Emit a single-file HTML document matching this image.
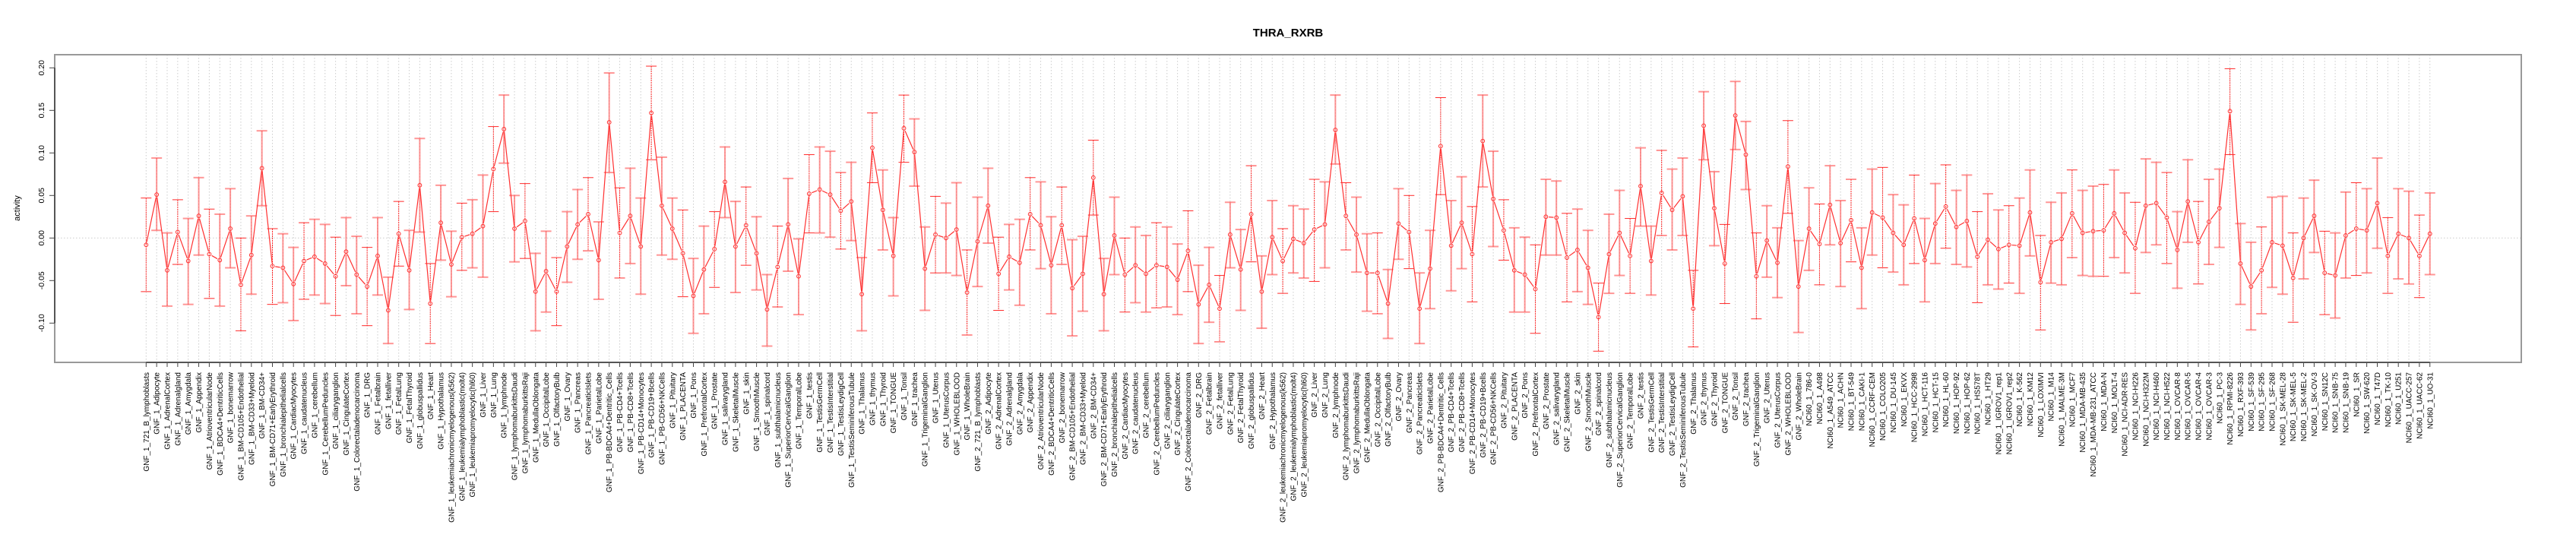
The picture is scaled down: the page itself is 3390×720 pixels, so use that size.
<!DOCTYPE html>
<html><head><meta charset="utf-8"><style>
html,body{margin:0;padding:0;background:#fff;}
svg{display:block;font-family:"Liberation Sans",sans-serif;}
</style></head><body>
<svg id="chart" width="3390" height="720" xmlns="http://www.w3.org/2000/svg">
<text x="1695" y="48" text-anchor="middle" font-size="15" font-weight="bold">THRA_RXRB</text>
<text transform="translate(26,274) rotate(-90)" text-anchor="middle" font-size="11">activity</text>
<g id="grid"></g><g id="axes"></g><g id="marks"></g>
</svg>
<script>
const tissues = ["721_B_lymphoblasts","Adipocyte","AdrenalCortex","Adrenalgland","Amygdala","Appendix","AtrioventricularNode","BDCA4+DentriticCells","bonemarrow","BM-CD105+Endothelial","BM-CD33+Myeloid","BM-CD34+","BM-CD71+EarlyErythroid","bronchialepithelialcells","CardiacMyocytes","caudatenucleus","cerebellum","CerebellumPeduncles","ciliaryganglion","CingulateCortex","Colorectaladenocarcinoma","DRG","Fetalbrain","fetalliver","FetalLung","FetalThyroid","globuspallidus","Heart","Hypothalamus","leukemiachronicmyelogenous(k562)","leukemialymphoblastic(molt4)","leukemiapromyelocytic(hl60)","Liver","Lung","lymphnode","lymphomaburkittsDaudi","lymphomaburkittsRaji","MedullaOblongata","OccipitalLobe","OlfactoryBulb","Ovary","Pancreas","PancreaticIslets","ParietalLobe","PB-BDCA4+Dentritic_Cells","PB-CD4+Tcells","PB-CD8+Tcells","PB-CD14+Monocytes","PB-CD19+Bcells","PB-CD56+NKCells","Pituitary","PLACENTA","Pons","PrefrontalCortex","Prostate","salivarygland","SkeletalMuscle","skin","SmoothMuscle","spinalcord","subthalamicnucleus","SuperiorCervicalGanglion","TemporalLobe","testis","TestisGermCell","TestisInterstitial","TestisLeydigCell","TestisSeminiferousTubule","Thalamus","thymus","Thyroid","TONGUE","Tonsil","trachea","TrigeminalGanglion","Uterus","UterusCorpus","WHOLEBLOOD","WholeBrain"];
const nciLines = ["786-0","A498","A549_ATCC","ACHN","BT-549","CAKI-1","CCRF-CEM","COLO205","DU-145","EKVX","HCC-2998","HCT-116","HCT-15","HL-60","HOP-92","HOP-62","HS578T","HT29","IGROV1_rep1","IGROV1_rep2","K-562","KM12","LOXIMVI","M14","MALME-3M","MCF7","MDA-MB-435","MDA-MB-231_ATCC","MDA-N","MOLT-4","NCI-ADR-RES","NCI-H226","NCI-H322M","NCI-H460","NCI-H522","OVCAR-8","OVCAR-5","OVCAR-4","OVCAR-3","PC-3","RPMI-8226","RXF-393","SF-539","SF-295","SF-268","SK-MEL-28","SK-MEL-5","SK-MEL-2","SK-OV-3","SN12C","SNB-75","SNB-19","SR","SW-620","T47D","TK-10","U251","UACC-257","UACC-62","UO-31"];
const categories = tissues.map(t=>"GNF_1_"+t).concat(tissues.map(t=>"GNF_2_"+t)).concat(nciLines.map(t=>"NCI60_1_"+t));
const means = [-0.008,0.051,-0.038,0.007,-0.027,0.026,-0.019,-0.026,0.011,-0.055,
-0.020,0.082,-0.033,-0.035,-0.054,-0.027,-0.022,-0.030,-0.045,-0.016,-0.043,-0.057,-0.021,-0.085,0.005,-0.038,0.062,-0.077,0.018,-0.031,0.001,0.005,
0.014,0.081,0.128,0.011,0.020,-0.063,-0.039,-0.063,-0.010,0.016,0.028,-0.026,0.136,0.006,0.026,-0.010,0.147,0.038,0.011,-0.018,-0.068,-0.037,
-0.013,0.066,-0.010,0.015,-0.018,-0.084,-0.034,0.016,-0.045,0.052,0.057,0.051,0.032,0.043,-0.066,0.106,0.033,-0.021,0.129,0.101,-0.036,
0.004,0.000,0.010,-0.064,-0.004,0.038,-0.042,-0.022,-0.029,0.028,0.015,-0.032,0.015,-0.059,-0.042,0.071,-0.066,0.003,-0.043,-0.032,-0.042,-0.032,
-0.034,-0.049,-0.015,-0.078,-0.055,-0.083,0.004,-0.037,0.028,-0.063,0.001,-0.027,-0.001,-0.006,0.010,0.016,0.127,0.026,0.004,-0.041,-0.041,
-0.077,0.017,0.007,-0.083,-0.036,0.108,-0.009,0.018,-0.019,0.114,0.046,0.009,-0.038,-0.043,-0.060,0.025,0.024,-0.023,-0.014,-0.035,-0.093,-0.019,
0.006,-0.021,0.061,-0.027,0.053,0.033,0.049,-0.083,0.132,0.035,-0.030,0.144,0.098,-0.045,-0.003,-0.029,0.084,-0.057,0.011,-0.007,0.039,
-0.006,0.021,-0.035,0.030,0.024,0.006,-0.008,0.023,-0.026,0.017,0.037,0.013,0.020,-0.022,-0.002,-0.013,-0.008,-0.009,0.030,-0.052,-0.005,-0.001,
0.029,0.006,0.008,0.009,0.029,0.006,-0.012,0.038,0.041,0.024,-0.014,0.043,-0.005,0.019,0.035,0.149,-0.030,-0.057,-0.038,-0.005,-0.009,
-0.047,0.000,0.026,-0.041,-0.044,0.003,0.011,0.009,0.041,-0.021,0.005,0.000,-0.021,0.005];
const upper = [0.047,0.094,0.006,0.045,0.023,0.071,0.034,0.028,0.058,0.000,
0.026,0.126,0.011,0.005,-0.011,0.018,0.022,0.016,0.001,0.024,0.002,-0.011,0.024,-0.046,0.043,0.009,0.117,-0.030,0.062,0.008,0.041,0.045,
0.074,0.131,0.168,0.050,0.064,-0.018,0.008,-0.023,0.031,0.057,0.071,0.019,0.194,0.059,0.082,0.047,0.202,0.095,0.047,0.033,-0.024,0.014,
0.031,0.107,0.043,0.060,0.025,-0.043,0.014,0.070,-0.001,0.098,0.107,0.102,0.077,0.089,-0.023,0.147,0.080,0.024,0.168,0.140,0.013,
0.049,0.041,0.065,-0.014,0.048,0.082,0.001,0.016,0.022,0.071,0.066,0.025,0.060,-0.002,0.002,0.115,-0.024,0.048,0.000,0.013,0.003,0.018,
0.013,-0.007,0.032,-0.032,-0.011,-0.044,0.042,0.010,0.085,-0.021,0.044,0.011,0.038,0.034,0.069,0.066,0.168,0.065,0.048,0.005,0.006,
-0.037,0.058,0.050,-0.041,0.009,0.165,0.044,0.072,0.037,0.168,0.102,0.045,0.012,0.001,-0.008,0.069,0.067,0.029,0.034,0.009,-0.053,0.028,
0.056,0.023,0.106,0.014,0.103,0.081,0.094,-0.038,0.172,0.078,0.016,0.184,0.137,0.006,0.038,0.012,0.138,-0.003,0.059,0.040,0.085,
0.044,0.069,0.012,0.081,0.083,0.051,0.039,0.074,0.023,0.064,0.086,0.056,0.074,0.031,0.052,0.033,0.038,0.047,0.080,0.003,0.042,0.053,
0.080,0.056,0.061,0.063,0.080,0.053,0.042,0.093,0.089,0.077,0.031,0.092,0.043,0.069,0.081,0.199,0.017,-0.005,0.013,0.048,0.049,
0.006,0.047,0.068,0.008,0.006,0.054,0.065,0.058,0.094,0.024,0.058,0.055,0.027,0.053];
const lower = [-0.063,0.009,-0.080,-0.031,-0.078,-0.020,-0.071,-0.080,-0.035,-0.109,
-0.066,0.038,-0.078,-0.076,-0.097,-0.072,-0.067,-0.077,-0.091,-0.056,-0.089,-0.103,-0.067,-0.124,-0.033,-0.084,0.007,-0.124,-0.026,-0.069,-0.038,-0.035,
-0.046,0.031,0.088,-0.028,-0.024,-0.109,-0.087,-0.103,-0.052,-0.025,-0.015,-0.072,0.077,-0.047,-0.030,-0.066,0.092,-0.020,-0.025,-0.069,-0.112,-0.089,
-0.058,0.024,-0.064,-0.032,-0.061,-0.127,-0.081,-0.039,-0.090,0.006,0.006,0.001,-0.013,-0.003,-0.109,0.065,-0.014,-0.068,0.089,0.061,-0.085,
-0.041,-0.041,-0.044,-0.114,-0.057,-0.006,-0.085,-0.061,-0.079,-0.014,-0.036,-0.089,-0.031,-0.115,-0.086,0.027,-0.109,-0.043,-0.087,-0.076,-0.087,-0.082,
-0.081,-0.090,-0.063,-0.124,-0.099,-0.122,-0.035,-0.085,-0.028,-0.106,-0.043,-0.065,-0.041,-0.047,-0.051,-0.035,0.087,-0.014,-0.040,-0.086,-0.089,
-0.118,-0.025,-0.036,-0.124,-0.083,0.051,-0.062,-0.036,-0.075,0.060,-0.010,-0.026,-0.087,-0.087,-0.112,-0.020,-0.020,-0.075,-0.063,-0.078,-0.133,-0.065,
-0.044,-0.065,0.014,-0.067,0.003,-0.014,0.003,-0.128,0.092,-0.009,-0.077,0.104,0.057,-0.095,-0.046,-0.070,0.029,-0.111,-0.038,-0.055,-0.008,
-0.057,-0.028,-0.083,-0.020,-0.035,-0.040,-0.055,-0.030,-0.075,-0.030,-0.012,-0.031,-0.034,-0.076,-0.055,-0.060,-0.053,-0.065,-0.021,-0.108,-0.053,-0.055,
-0.023,-0.044,-0.045,-0.045,-0.023,-0.041,-0.065,-0.017,-0.008,-0.030,-0.059,-0.005,-0.054,-0.031,-0.011,0.098,-0.078,-0.108,-0.089,-0.058,-0.066,
-0.099,-0.048,-0.017,-0.090,-0.094,-0.047,-0.044,-0.041,-0.012,-0.065,-0.048,-0.054,-0.070,-0.043];
const yTicks = [-0.10,-0.05,0.00,0.05,0.10,0.15,0.20];
const yTickLabels = ["-0.10","-0.05","0.00","0.05","0.10","0.15","0.20"];

const NS="http://www.w3.org/2000/svg";
const PL=72, PR=3318, PT=72, PB=477;
const X0=192.3, DX=13.85;
function xS(i){return X0+i*DX;}
function yS(v){return 313.3-v*1120;}
function mk(tag,attrs,parent){const e=document.createElementNS(NS,tag);for(const k in attrs)e.setAttribute(k,attrs[k]);parent.appendChild(e);return e;}
const grid=document.getElementById('grid'),axes=document.getElementById('axes'),marks=document.getElementById('marks');

// plot box
const box=mk('rect',{x:PL,y:PT,width:PR-PL,height:PB-PT,fill:'none',stroke:'#999','stroke-width':2},axes);



// vertical grid & x labels
categories.forEach((c,i)=>{
  const x=xS(i);
  const g=mk('line',{x1:x,x2:x,y1:PT,y2:PB,stroke:'#ccc','stroke-dasharray':'1.5,2.5','stroke-width':1},grid);
  
  
  const tk=mk('line',{x1:x,x2:x,y1:PB,y2:PB+6,stroke:'#444','stroke-width':1},axes);
  
  
  const t=mk('text',{transform:`translate(${x+3.5},${PB+13}) rotate(-90)`,'text-anchor':'end','font-size':10,fill:'#000'},axes);
  t.textContent=c;
  
  
});
const zl=mk('line',{x1:PL,x2:PR,y1:yS(0),y2:yS(0),stroke:'#ccc','stroke-dasharray':'1.5,2.5'},grid);


// dark axis segments
const xa=mk('line',{x1:xS(0),x2:xS(categories.length-1),y1:PB,y2:PB,stroke:'#555','stroke-width':2},axes);


const ya=mk('line',{x1:PL,x2:PL,y1:yS(yTicks[0]),y2:yS(yTicks[yTicks.length-1]),stroke:'#555','stroke-width':2},axes);


yTicks.forEach((v,k)=>{
  const y=yS(v);
  const tk=mk('line',{x1:PL-7,x2:PL,y1:y,y2:y,stroke:'#444'},axes);
  
  
  const t=mk('text',{transform:`translate(${PL-14},${y}) rotate(-90)`,'text-anchor':'middle','font-size':10.5},axes);
  t.textContent=yTickLabels[k];
  
  
});

// error bars
means.forEach((m,i)=>{
  const x=xS(i), yu=yS(upper[i]), yl=yS(lower[i]);
  const light = (i%3!==0);
  const st = light ? {stroke:'rgba(255,80,80,0.6)','stroke-width':2} : {stroke:'#ff2a2a','stroke-width':1,'stroke-dasharray':'2,1'};
  const g=mk('g',st,marks);
  
  
  mk('line',{x1:x,x2:x,y1:yu,y2:yl},g);
  mk('line',{x1:x-7,x2:x+7,y1:yu,y2:yu,'stroke-dasharray':'none'},g);
  mk('line',{x1:x-7,x2:x+7,y1:yl,y2:yl,'stroke-dasharray':'none'},g);
});
// connecting line with gaps
for(let i=0;i<means.length-1;i++){
  const x1=xS(i),y1=yS(means[i]),x2=xS(i+1),y2=yS(means[i+1]);
  const dx=x2-x1,dy=y2-y1,L=Math.hypot(dx,dy),g=3.8;
  if(L<=2*g) continue;
  const ux=dx/L,uy=dy/L;
  const s=mk('line',{x1:x1+ux*g,y1:y1+uy*g,x2:x2-ux*g,y2:y2-uy*g,stroke:'#ff3030','stroke-width':1.2},marks);
  
  
}
means.forEach((m,i)=>{
  const c=mk('circle',{cx:xS(i),cy:yS(m),r:2.4,fill:'none',stroke:'#ff3030','stroke-width':1},marks);
  
  
});
</script>
</body></html>
